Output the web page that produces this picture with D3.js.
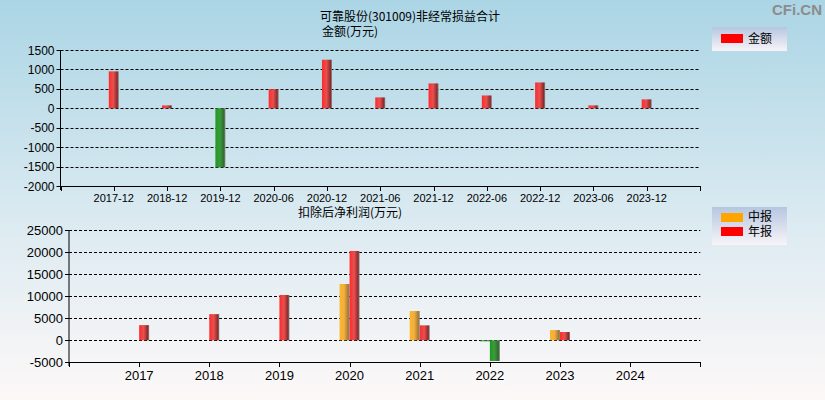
<!DOCTYPE html>
<html>
<head>
<meta charset="utf-8">
<script src="https://cdn.jsdelivr.net/npm/d3@7"></script>
<style>
  body { margin: 0; }
  text { font-family: "Liberation Sans", Arial, sans-serif; }
  .cn { font-family: "Noto Sans CJK SC", sans-serif; }
</style>
</head>
<body>
<div id="chart"></div>
<script>
// Data - top chart
const periods = ['2017-12', '2018-12', '2019-12', '2020-06', '2020-12', '2021-06',
  '2021-12', '2022-06', '2022-12', '2023-06', '2023-12'];
const amounts = [950, 75, -1520, 490, 1250, 280, 640, 330, 665, 75, 230];

// Data - bottom chart
const years = ['2017', '2018', '2019', '2020', '2021', '2022', '2023', '2024'];
const midValues = [null, null, null, 12800, 6650, -150, 2330, null];
const annualValues = [3450, 5950, 10300, 20300, 3400, -4700, 1880, null];

const topTicks = [1500, 1000, 500, 0, -500, -1000, -1500, -2000];
const bottomTicks = [25000, 20000, 15000, 10000, 5000, 0, -5000];

const width = 825, height = 400;

const svg = d3.select('#chart')
  .append('svg')
  .attr('width', width)
  .attr('height', height);

const defs = svg.append('defs');

// background
const bg = defs.append('linearGradient').attr('id', 'bg')
  .attr('x1', 0).attr('y1', 0).attr('x2', 0).attr('y2', 1);
bg.append('stop').attr('offset', '0%').attr('stop-color', '#abd5e5');
bg.append('stop').attr('offset', '55%').attr('stop-color', '#dbeaf1');
bg.append('stop').attr('offset', '100%').attr('stop-color', '#fdf8f8');
svg.append('rect').attr('width', width).attr('height', height).attr('fill', 'url(#bg)');

// bar gradients (cylinder look)
function barGrad(id, c1, c2, c3) {
  const g = defs.append('linearGradient').attr('id', id)
    .attr('x1', 0).attr('y1', 0).attr('x2', 1).attr('y2', 0);
  g.append('stop').attr('offset', '0%').attr('stop-color', c1);
  g.append('stop').attr('offset', '45%').attr('stop-color', c2);
  g.append('stop').attr('offset', '85%').attr('stop-color', c3);
  g.append('stop').attr('offset', '100%').attr('stop-color', '#8a8a8a');
}
barGrad('red', '#ff2a2a', '#e85050', '#8c2a2a');
barGrad('green', '#1e9a1e', '#3c9a3c', '#2f6a2f');
barGrad('orange', '#ffb428', '#f0b040', '#a87a30');

const legendGrad = defs.append('linearGradient').attr('id', 'lg')
  .attr('x1', 0).attr('y1', 0).attr('x2', 0).attr('y2', 1);
legendGrad.append('stop').attr('offset', '0%').attr('stop-color', '#b6c6e0');
legendGrad.append('stop').attr('offset', '100%').attr('stop-color', '#f8f4f8');

// watermark
svg.append('text').attr('x', 822).attr('y', 15).attr('text-anchor', 'end')
  .attr('font-size', 15).attr('font-weight', 'bold').attr('fill', '#8c8c8c')
  .text('CFi.CN');

// titles
svg.append('text').attr('class', 'cn').attr('x', 410).attr('y', 21)
  .attr('text-anchor', 'middle').attr('font-size', 12).text('可靠股份(301009)非经常损益合计');
svg.append('text').attr('class', 'cn').attr('x', 322).attr('y', 36)
  .attr('font-size', 12).text('金额(万元)');
svg.append('text').attr('class', 'cn').attr('x', 350).attr('y', 217)
  .attr('text-anchor', 'middle').attr('font-size', 12).text('扣除后净利润(万元)');

function gridAndAxis(g, y, ticks, x0, x1, labelSize) {
  g.selectAll('line.grid').data(ticks).join('line')
    .attr('x1', x0).attr('x2', x1)
    .attr('y1', d => Math.round(y(d)) + 0.5).attr('y2', d => Math.round(y(d)) + 0.5)
    .attr('stroke', '#000').attr('stroke-dasharray', '3,2').attr('stroke-width', 1);
  g.selectAll('line.tk').data(ticks).join('line')
    .attr('x1', x0 - 4).attr('x2', x0)
    .attr('y1', d => Math.round(y(d)) + 0.5).attr('y2', d => Math.round(y(d)) + 0.5)
    .attr('stroke', '#000');
  g.selectAll('text.yl').data(ticks).join('text')
    .attr('x', x0 - 6).attr('y', d => y(d) + 4.5)
    .attr('text-anchor', 'end').attr('font-size', labelSize).text(d => d);
}

// ---------- top chart ----------
const tx0 = 60.5, tx1 = 700;
const xTop = d3.scalePoint().domain(['', ...periods, ' ']).range([tx0, tx1]);
const yTop = d3.scaleLinear().domain([-2000, 1500]).range([186, 50]);

const topG = svg.append('g');
gridAndAxis(topG.append('g'), yTop, topTicks, tx0, tx1, 12);

topG.append('g').selectAll('rect').data(periods).join('rect')
  .attr('x', d => xTop(d) - 5)
  .attr('width', 10)
  .attr('y', (d, i) => yTop(Math.max(0, amounts[i])))
  .attr('height', (d, i) => Math.abs(yTop(amounts[i]) - yTop(0)))
  .attr('fill', (d, i) => amounts[i] >= 0 ? 'url(#red)' : 'url(#green)');

// axes lines
topG.append('line').attr('x1', tx0).attr('x2', tx0).attr('y1', 50).attr('y2', 190).attr('stroke', '#000');
topG.append('line').attr('x1', tx0).attr('x2', tx1).attr('y1', 186.5).attr('y2', 186.5).attr('stroke', '#000');
topG.append('g').selectAll('line').data(['', ...periods, ' ']).join('line')
  .attr('x1', d => Math.round(xTop(d)) + 0.5).attr('x2', d => Math.round(xTop(d)) + 0.5)
  .attr('y1', 186).attr('y2', 191).attr('stroke', '#000');
topG.append('g').selectAll('text').data(periods).join('text')
  .attr('x', d => xTop(d)).attr('y', 202)
  .attr('text-anchor', 'middle').attr('font-size', 11).text(d => d);

// top legend
svg.append('rect').attr('x', 712).attr('y', 27).attr('width', 75).attr('height', 24).attr('fill', 'url(#lg)');
svg.append('rect').attr('x', 721).attr('y', 34).attr('width', 22).attr('height', 9).attr('fill', '#ff0000');
svg.append('text').attr('class', 'cn').attr('x', 748).attr('y', 43).attr('font-size', 12).text('金额');

// ---------- bottom chart ----------
const bx0 = 69, bx1 = 700.3;
const xBot = d3.scalePoint().domain(['', ...years, ' ']).range([bx0, bx1]);
const yBot = d3.scaleLinear().domain([-5000, 25000]).range([362.3, 230.3]);

const botG = svg.append('g');
gridAndAxis(botG.append('g'), yBot, bottomTicks, bx0, bx1, 13);

const bars = [];
years.forEach((yr, i) => {
  if (midValues[i] !== null) bars.push({ yr, v: midValues[i], off: -10, kind: 'mid' });
  if (annualValues[i] !== null) bars.push({ yr, v: annualValues[i], off: 0, kind: 'annual' });
});
botG.append('g').selectAll('rect').data(bars).join('rect')
  .attr('x', d => xBot(d.yr) + d.off)
  .attr('width', 10)
  .attr('y', d => yBot(Math.max(0, d.v)))
  .attr('height', d => Math.max(1, Math.abs(yBot(d.v) - yBot(0))))
  .attr('fill', d => d.v < 0 ? 'url(#green)' : (d.kind === 'mid' ? 'url(#orange)' : 'url(#red)'));

botG.append('line').attr('x1', bx0).attr('x2', bx0).attr('y1', 230).attr('y2', 366).attr('stroke', '#000');
botG.append('line').attr('x1', bx0).attr('x2', bx1).attr('y1', 362.5).attr('y2', 362.5).attr('stroke', '#000');
botG.append('g').selectAll('line').data(['', ...years, ' ']).join('line')
  .attr('x1', d => Math.round(xBot(d)) + 0.5).attr('x2', d => Math.round(xBot(d)) + 0.5)
  .attr('y1', 362).attr('y2', 367).attr('stroke', '#000');
botG.append('g').selectAll('text').data(years).join('text')
  .attr('x', d => xBot(d)).attr('y', 380)
  .attr('text-anchor', 'middle').attr('font-size', 13).text(d => d);

// bottom legend
svg.append('rect').attr('x', 712).attr('y', 207).attr('width', 75).attr('height', 38).attr('fill', 'url(#lg)');
svg.append('rect').attr('x', 721).attr('y', 213).attr('width', 22).attr('height', 9).attr('fill', '#ffa500');
svg.append('text').attr('class', 'cn').attr('x', 748).attr('y', 221).attr('font-size', 12).text('中报');
svg.append('rect').attr('x', 721).attr('y', 227).attr('width', 22).attr('height', 9).attr('fill', '#ff0000');
svg.append('text').attr('class', 'cn').attr('x', 748).attr('y', 236).attr('font-size', 12).text('年报');
</script>
</body>
</html>
